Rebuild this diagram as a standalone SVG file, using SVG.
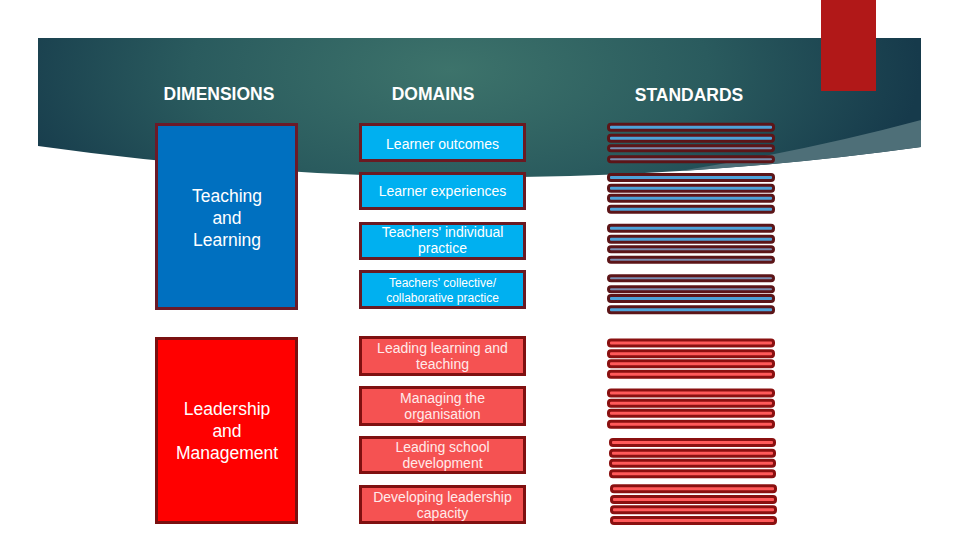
<svg xmlns="http://www.w3.org/2000/svg" width="960" height="540" viewBox="0 0 960 540">
<defs>
<radialGradient id="bg" gradientUnits="userSpaceOnUse" cx="450" cy="70" r="470" gradientTransform="translate(450 70) scale(1 0.45) translate(-450 -70)">
<stop offset="0" stop-color="#3d736b"/>
<stop offset="0.55" stop-color="#2a5b5e"/>
<stop offset="1" stop-color="#163a4b"/>
</radialGradient>
</defs>
<style>
.hdr{font-family:"Liberation Sans",Arial,sans-serif;font-weight:bold;font-size:17.5px;fill:#ffffff;text-anchor:middle}
.dim{font-family:"Liberation Sans",Arial,sans-serif;font-size:17.5px;fill:#ffffff;text-anchor:middle}
.dom{font-family:"Liberation Sans",Arial,sans-serif;font-size:14px;fill:#ffffff;text-anchor:middle}
.domr{font-family:"Liberation Sans",Arial,sans-serif;font-size:14px;fill:#ffeaea;text-anchor:middle}
.sm{font-size:12px}
.dimb{fill:#0070c0;stroke:#6b1a28;stroke-width:3}
.dimr{fill:#ff0000;stroke:#7a1010;stroke-width:3}
.domb{fill:#00b0f0;stroke:#6a1a22;stroke-width:3}
.domrb{fill:#f55252;stroke:#7f1010;stroke-width:3}
.sb{fill:#4ea3d9;stroke:#5c1518;stroke-width:3}
.sbt{fill:#7b8db0;stroke:#5c1518;stroke-width:3}
.sr{fill:#ff5a5a;stroke:#8a1010;stroke-width:3}
</style>
<rect width="960" height="540" fill="#ffffff"/>
<g id="banner">
<path d="M38,38 L921,38 L921,147 Q480,208 38,146 Z" fill="url(#bg)"/>
<path d="M680,171 Q810,150 921,120 L921,147 Q800.6,163.7 680,171 Z" fill="#4e6f78"/>
<rect x="821" y="0" width="55" height="91" fill="#b11818"/>
</g>
<g id="headers">
<text class="hdr" x="219" y="100">DIMENSIONS</text>
<text class="hdr" x="433" y="100">DOMAINS</text>
<text class="hdr" x="689" y="101">STANDARDS</text>
</g>
<g id="dim-teaching">
<rect class="dimb" x="156.5" y="124.5" width="140" height="184"/>
<text class="dim" x="227" y="202">Teaching</text>
<text class="dim" x="227" y="224">and</text>
<text class="dim" x="227" y="246">Learning</text>
</g>
<g id="dim-leadership">
<rect class="dimr" x="156.5" y="338.5" width="140" height="184"/>
<text class="dim" x="227" y="415">Leadership</text>
<text class="dim" x="227" y="437">and</text>
<text class="dim" x="227" y="459">Management</text>
</g>
<g id="dom-learner-outcomes">
<rect class="domb" x="360.5" y="124.5" width="164" height="36"/>
<text class="dom" x="442.5" y="149">Learner outcomes</text>
</g>
<g id="dom-learner-experiences">
<rect class="domb" x="360.5" y="173.5" width="164" height="35"/>
<text class="dom" x="442.5" y="196">Learner experiences</text>
</g>
<g id="dom-teachers-individual">
<rect class="domb" x="360.5" y="223.5" width="164" height="35"/>
<text class="dom" x="442.5" y="237">Teachers' individual</text>
<text class="dom" x="442.5" y="253">practice</text>
</g>
<g id="dom-teachers-collective">
<rect class="domb" x="360.5" y="271.5" width="164" height="36"/>
<text class="dom sm" x="442.5" y="287">Teachers' collective/</text>
<text class="dom sm" x="442.5" y="302">collaborative practice</text>
</g>
<g id="dom-leading-learning">
<rect class="domrb" x="360.5" y="337.5" width="164" height="37"/>
<text class="domr" x="442.5" y="353">Leading learning and</text>
<text class="domr" x="442.5" y="369">teaching</text>
</g>
<g id="dom-managing">
<rect class="domrb" x="360.5" y="387.5" width="164" height="37"/>
<text class="domr" x="442.5" y="403">Managing the</text>
<text class="domr" x="442.5" y="419">organisation</text>
</g>
<g id="dom-leading-school">
<rect class="domrb" x="360.5" y="437.5" width="164" height="35"/>
<text class="domr" x="442.5" y="452">Leading school</text>
<text class="domr" x="442.5" y="468">development</text>
</g>
<g id="dom-developing">
<rect class="domrb" x="360.5" y="486.5" width="164" height="36"/>
<text class="domr" x="442.5" y="502">Developing leadership</text>
<text class="domr" x="442.5" y="518">capacity</text>
</g>
<g id="standards-teaching">
<rect class="sb" x="608.5" y="124.2" width="165" height="6" rx="2.5"/>
<rect class="sb" x="608.5" y="135.2" width="165" height="6" rx="2.5"/>
<rect class="sbt" x="608.5" y="145.7" width="165" height="5" rx="2.5"/>
<rect class="sbt" x="608.5" y="156.7" width="165" height="5" rx="2.5"/>
<rect class="sb" x="608.5" y="174.5" width="165" height="6" rx="2.5"/>
<rect class="sb" x="608.5" y="185.2" width="165" height="6" rx="2.5"/>
<rect class="sb" x="608.5" y="195.2" width="165" height="6" rx="2.5"/>
<rect class="sb" x="608.5" y="206.2" width="165" height="6" rx="2.5"/>
<rect class="sb" x="608.5" y="225.2" width="165" height="6" rx="2.5"/>
<rect class="sb" x="608.5" y="236.2" width="165" height="6" rx="2.5"/>
<rect class="sbt" x="608.5" y="246.7" width="165" height="5" rx="2.5"/>
<rect class="sbt" x="608.5" y="257.3" width="165" height="5" rx="2.5"/>
<rect class="sbt" x="608.5" y="275.7" width="165" height="5" rx="2.5"/>
<rect class="sbt" x="608.5" y="286.7" width="165" height="5" rx="2.5"/>
<rect class="sb" x="608.5" y="295.5" width="165" height="6" rx="2.5"/>
<rect class="sb" x="608.5" y="306.8" width="165" height="6" rx="2.5"/>
</g>
<g id="standards-leadership">
<rect class="sr" x="608.5" y="340" width="165" height="6" rx="2.5"/>
<rect class="sr" x="608.5" y="350.7" width="165" height="6" rx="2.5"/>
<rect class="sr" x="608.5" y="360.7" width="165" height="6" rx="2.5"/>
<rect class="sr" x="608.5" y="371.2" width="165" height="6" rx="2.5"/>
<rect class="sr" x="608.5" y="390" width="165" height="6" rx="2.5"/>
<rect class="sr" x="608.5" y="400.3" width="165" height="6" rx="2.5"/>
<rect class="sr" x="608.5" y="410.3" width="165" height="6" rx="2.5"/>
<rect class="sr" x="608.5" y="421.2" width="165" height="6" rx="2.5"/>
<rect class="sr" x="610.5" y="439.5" width="164" height="6" rx="2.5"/>
<rect class="sr" x="610.5" y="450.2" width="164" height="6" rx="2.5"/>
<rect class="sr" x="610.5" y="460.3" width="164" height="6" rx="2.5"/>
<rect class="sr" x="610.5" y="470.7" width="164" height="6" rx="2.5"/>
<rect class="sr" x="611.5" y="485.8" width="164" height="6" rx="2.5"/>
<rect class="sr" x="611.5" y="496.5" width="164" height="6" rx="2.5"/>
<rect class="sr" x="611.5" y="506.7" width="164" height="6" rx="2.5"/>
<rect class="sr" x="611.5" y="517.5" width="164" height="6" rx="2.5"/>
</g>
<g id="connectors"/>
</svg>
